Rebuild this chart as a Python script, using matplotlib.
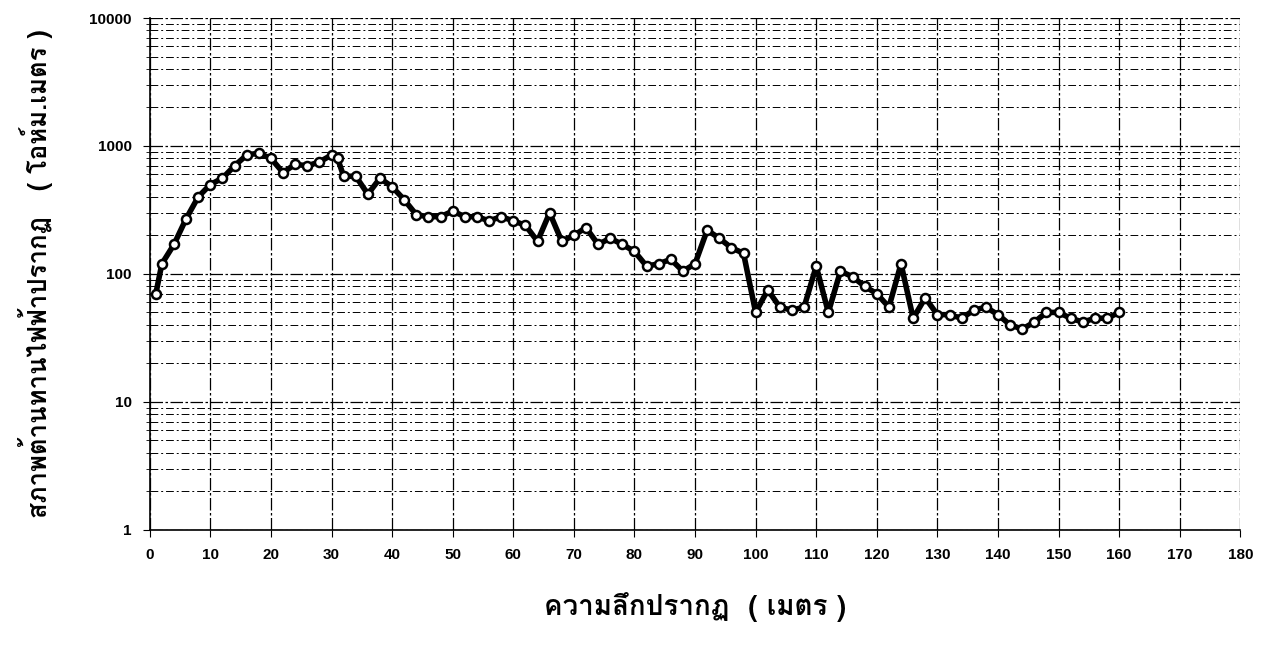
import matplotlib
matplotlib.use("Agg")
import matplotlib.pyplot as plt
from matplotlib import font_manager
from matplotlib.ft2font import FT2Font
from matplotlib.ticker import FixedLocator, LogLocator, NullFormatter

depth = [1, 2, 4, 6, 8, 10, 12, 14, 16, 18, 20, 22, 24, 26, 28, 30, 31, 32, 34,
         36, 38, 40, 42, 44, 46, 48, 50, 52, 54, 56, 58, 60, 62, 64, 66, 68, 70,
         72, 74, 76, 78, 80, 82, 84, 86, 88, 90, 92, 94, 96, 98, 100, 102, 104,
         106, 108, 110, 112, 114, 116, 118, 120, 122, 124, 126, 128, 130, 132,
         134, 136, 138, 140, 142, 144, 146, 148, 150, 152, 154, 156, 158, 160]
resistivity = [70, 120, 170, 270, 400, 500, 560, 700, 850, 880, 800, 620, 720,
               700, 750, 850, 800, 580, 580, 420, 560, 480, 380, 290, 280, 280,
               310, 280, 280, 260, 280, 260, 240, 180, 300, 180, 200, 230, 170,
               190, 170, 150, 115, 120, 130, 105, 120, 220, 190, 160, 145, 50,
               75, 55, 52, 55, 115, 50, 105, 95, 80, 70, 55, 120, 45, 65, 48, 48,
               45, 52, 55, 48, 40, 37, 42, 50, 50, 45, 42, 45, 45, 50]

xticks = list(range(0, 190, 10))
yticks = [1, 10, 100, 1000, 10000]
xlabel = "ความลึกปรากฏ  ( เมตร )"
ylabel = "สภาพต้านทานไฟฟ้าปรากฏ   ( โอห์ม.เมตร )"


def thai_families():
    # look for any installed font that carries Thai glyphs
    found = []
    for f in font_manager.fontManager.ttflist:
        try:
            cmap = FT2Font(f.fname).get_charmap()
        except Exception:
            continue
        if 0x0E01 in cmap and 0x0E49 in cmap and f.name not in found:
            found.append(f.name)
    return found


label_fonts = thai_families() + ["Liberation Sans", "DejaVu Sans"]
plt.rcParams["font.family"] = ["Liberation Sans", "DejaVu Sans"]

fig = plt.figure(figsize=(12.8, 6.46), dpi=100)
ax = fig.add_axes([0.117, 0.18, 0.852, 0.792])

ax.plot(depth, resistivity, color="black", lw=4, marker="o", ms=6.5,
        mfc="white", mec="black", mew=1.8, zorder=5)

ax.set_yscale("log")
ax.set_xlim(0, 180)
ax.set_ylim(1, 10000)
ax.xaxis.set_major_locator(FixedLocator(xticks))
ax.yaxis.set_major_locator(FixedLocator(yticks))
ax.yaxis.set_minor_locator(LogLocator(base=10, subs=range(2, 10)))
ax.yaxis.set_minor_formatter(NullFormatter())
ax.set_yticklabels([str(v) for v in yticks])

ax.grid(True, which="major", axis="both", color="black", lw=0.9,
        ls=(0, (10, 2, 2, 2)))
ax.grid(True, which="minor", axis="y", color="black", lw=0.7,
        ls=(0, (8, 3, 2, 3)))

for s in ["top", "right"]:
    ax.spines[s].set_visible(False)
ax.spines["left"].set_linewidth(1.2)
ax.spines["bottom"].set_linewidth(1.2)

ax.tick_params(axis="both", which="major", labelsize=11, direction="out",
               length=5, pad=8)
ax.tick_params(axis="y", which="minor", length=3)
for lab in ax.get_xticklabels() + ax.get_yticklabels():
    lab.set_fontweight("bold")

ax.set_xlabel(xlabel, fontsize=20, fontweight="bold", labelpad=22,
              family=label_fonts)
ax.set_ylabel(ylabel, fontsize=18.5, fontweight="bold", labelpad=26,
              family=label_fonts)

fig.savefig("out.png", dpi=100)
